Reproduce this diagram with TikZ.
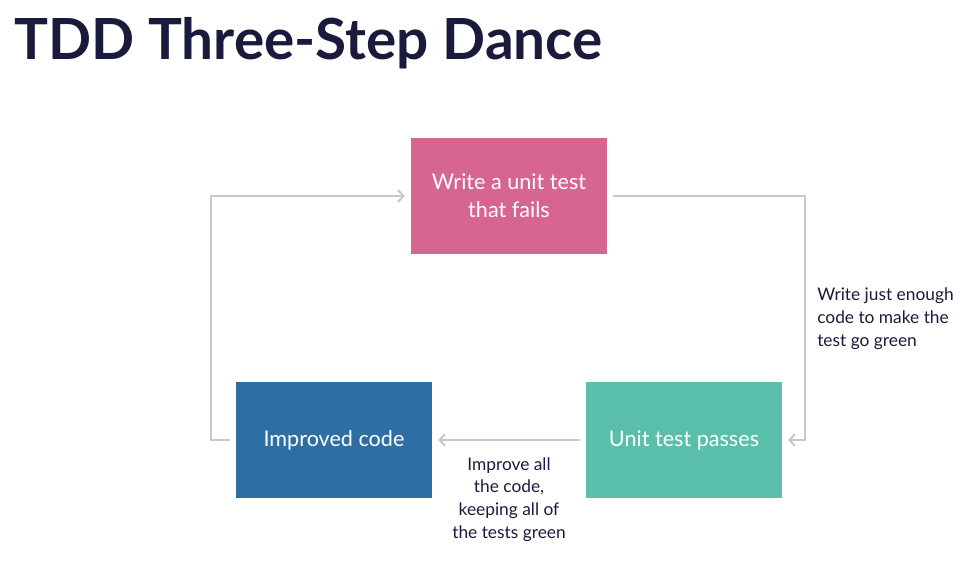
\documentclass[tikz,border=0pt]{standalone}
\usepackage{fontspec}
\setmainfont{Lato}
\usetikzlibrary{positioning,arrows.meta}
\definecolor{navy}{HTML}{1A1A3C}
\definecolor{failpink}{HTML}{D6658F}
\definecolor{codeblue}{HTML}{2E6FA3}
\definecolor{passgreen}{HTML}{5ABFAA}
\definecolor{linegray}{HTML}{C8C8C8}
\begin{document}
\begin{tikzpicture}[x=0.75pt,y=-0.75pt,
    stepbox/.style={minimum width=147pt, minimum height=87pt, inner sep=0pt,
        text=white, align=center, font=\fontsize{16.2}{21}\selectfont},
    link/.style={draw=linegray, line width=1.5pt, shorten <=4.5pt, shorten >=4.5pt,
        -{Straight Barb[length=4pt,width=9pt,line width=1.5pt]}},
    note/.style={text=navy, inner sep=0pt, font=\fontsize{13}{17}\selectfont}]
    \useasboundingbox (0,0) rectangle (980,560);
    % title
    \node[anchor=base west, inner sep=0pt, text=navy, font=\fontsize{42.5}{50}\selectfont\bfseries]
        (title) at (14,60) {TDD Three-Step Dance};
    % the three steps
    \node[stepbox, fill=failpink] (fail) at (509,196) {Write a unit test\\that fails};
    \node[stepbox, fill=passgreen] (pass) at (684,440) {Unit test passes};
    \node[stepbox, fill=codeblue] (improved) at (334,440) {Improved code};
    \coordinate (ne) at (805,196);
    \coordinate (nw) at (211,196);
    % the loop
    \draw[link] (fail) -- (ne) |- (pass);
    \draw[link] (pass) -- (improved);
    \draw[link] (improved.west) -| (nw) -- (fail);
    % what happens on each step
    \node[note, anchor=base west, align=left] (greenNote) at (817,346)
        {Write just enough\\code to make the\\test go green};
    \node[note, anchor=base, align=center] (refactorNote) at (509,538)
        {Improve all\\the code,\\keeping all of\\the tests green};
\end{tikzpicture}
\end{document}
